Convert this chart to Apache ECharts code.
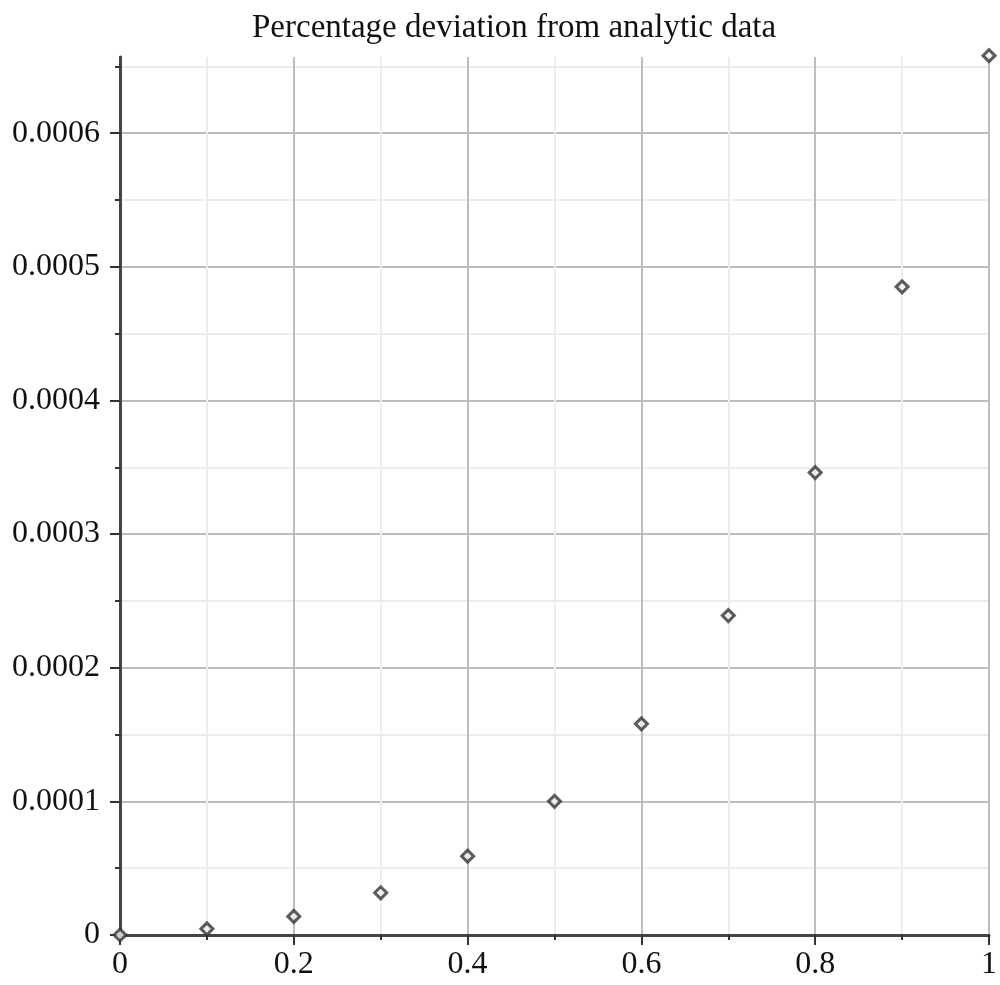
<!DOCTYPE html>
<html>
<head>
<meta charset="utf-8">
<script src="https://cdn.jsdelivr.net/npm/echarts@6/dist/echarts.min.js"></script>
<style>
html,body{margin:0;padding:0;background:#fff;}
#chart{width:1000px;height:985px;}
</style>
</head>
<body>
<div id="chart"></div>
<script>
const titleText = "Percentage deviation from analytic data";
const xValues = [0, 0.1, 0.2, 0.3, 0.4, 0.5, 0.6, 0.7, 0.8, 0.9, 1.0];
const yValues = [0, 0.0000046, 0.0000139, 0.0000316, 0.000059, 0.0001, 0.000158, 0.000239, 0.000346, 0.000485, 0.000658];
const yMajorTicks = [0, 0.0001, 0.0002, 0.0003, 0.0004, 0.0005, 0.0006];
const yMinorTicks = [0.00005, 0.00015, 0.00025, 0.00035, 0.00045, 0.00055, 0.00065];

const FONT = "'Liberation Serif', 'Times New Roman', serif";
const chart = echarts.init(document.getElementById('chart'), null, {renderer: 'canvas'});
const YMAX = 0.000657;

const option = {
  animation: false,
  backgroundColor: '#fff',
  title: {
    text: titleText,
    left: 247,
    top: 7,
    textStyle: {fontFamily: FONT, fontSize: 33, fontWeight: 'normal', color: '#111'}
  },
  grid: {left: 120, right: 6, top: 57, bottom: 50, containLabel: false},
  xAxis: {
    type: 'value',
    min: 0, max: 1, interval: 0.2,
    axisLine: {show: true, onZero: false, lineStyle: {color: '#444', width: 3}},
    axisTick: {show: true, length: 10, lineStyle: {color: '#333', width: 2}},
    minorTick: {show: true, splitNumber: 2, length: 5, lineStyle: {color: '#333', width: 2}},
    axisLabel: {fontFamily: FONT, fontSize: 32, color: '#111', margin: 14,
      formatter: v => String(Math.round(v * 10) / 10)},
    splitLine: {show: true, showMinLine: false, lineStyle: {color: '#bdbdbd', width: 2}},
    minorSplitLine: {show: true, lineStyle: {color: '#ececec', width: 2}}
  },
  yAxis: [{
    type: 'value',
    min: 0, max: YMAX, interval: 0.0001,
    axisLine: {show: true, onZero: false, lineStyle: {color: '#444', width: 3}},
    axisTick: {show: true, length: 10, customValues: yMajorTicks, lineStyle: {color: '#333', width: 2}},
    axisLabel: {fontFamily: FONT, fontSize: 32, color: '#111', margin: 20,
      customValues: yMajorTicks,
      formatter: v => {
        const idx = yMajorTicks.findIndex(t => Math.abs(t - v) < 1e-9);
        return idx < 0 ? '' : (idx === 0 ? '0' : yMajorTicks[idx].toFixed(4));
      }},
    splitLine: {show: true, showMinLine: false, showMaxLine: true, lineStyle: {color: '#bdbdbd', width: 2}}
  }, {
    type: 'value',
    position: 'left',
    min: 0, max: YMAX, interval: 0.0001,
    axisLine: {show: false},
    axisTick: {show: true, length: 5, customValues: yMinorTicks, lineStyle: {color: '#333', width: 2}},
    axisLabel: {show: false},
    splitLine: {show: true, showMinLine: true, showMaxLine: true, lineStyle: {color: '#ececec', width: 2}}
  }],
  series: [{
    type: 'scatter',
    yAxisIndex: 0,
    clip: false,
    symbol: 'diamond',
    symbolSize: 12,
    itemStyle: {color: '#efefef', borderColor: '#333', borderWidth: 3},
    data: xValues.map((x, i) => [x, yValues[i]]),
    z: 10
  }]
};
chart.setOption(option);
</script>
</body>
</html>
